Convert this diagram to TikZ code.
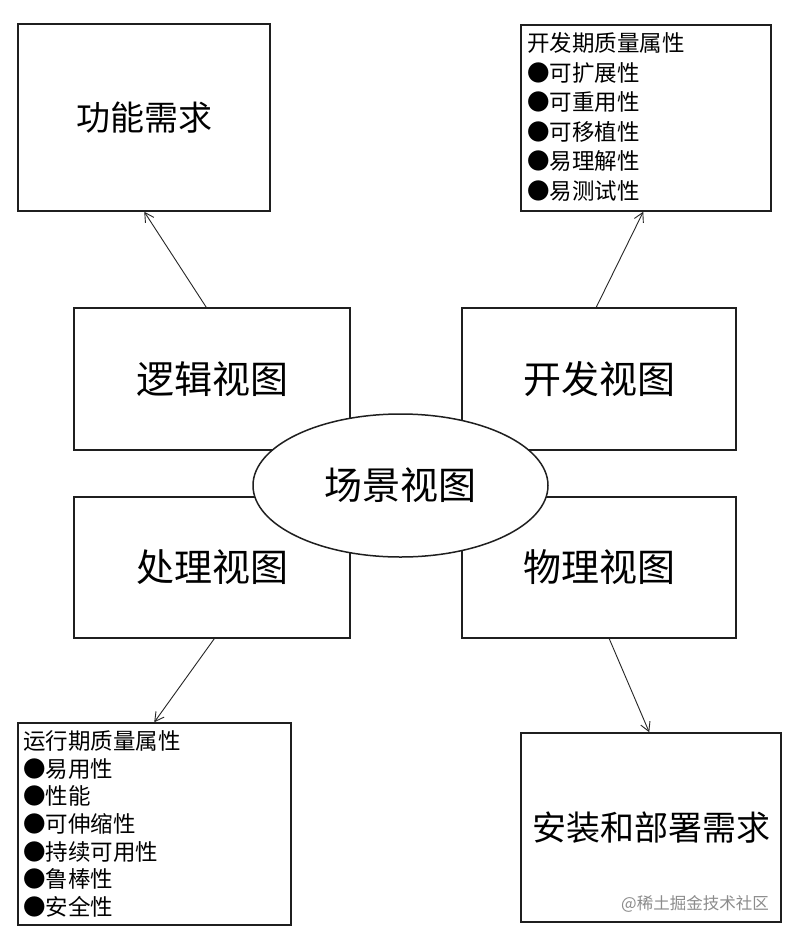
\documentclass[tikz,border=0pt]{standalone}
\usepackage{fontspec}
\newfontfamily\cjk{Noto Sans CJK SC}
\usetikzlibrary{arrows.meta,shapes.geometric}
\begin{document}
\begin{tikzpicture}[x=1pt,y=-1pt,
  box/.style={draw=black!88, line width=1.5pt, fill=white, inner sep=0pt},
  biglabel/.style={font=\cjk\fontsize{38}{40}\selectfont},
  midlabel/.style={font=\cjk\fontsize{34}{36}\selectfont},
  listtext/.style={inner sep=0pt, anchor=north west, align=left},
  arr/.style={draw=black!85, line width=0.9pt, -{Straight Barb[length=9pt,width=10pt]}}]
\useasboundingbox[fill=white] (0,0) rectangle (794,938);

% top boxes
\node[box, midlabel, minimum width=252, minimum height=187] (func) at (144,117.5) {功能需求};
\node[box, minimum width=250, minimum height=186] (devq) at (646,118) {};
\node[listtext, font=\cjk\fontsize{22.5}{29.5}\selectfont] (devqtext) at (527,32.5)
  {开发期质量属性\\●可扩展性\\●可重用性\\●可移植性\\●易理解性\\●易测试性};

% four views
\node[box, biglabel, minimum width=276, minimum height=142] (logic) at (212,379) {逻辑视图};
\node[box, biglabel, minimum width=274, minimum height=142] (dev) at (599,379) {开发视图};
\node[box, biglabel, minimum width=276, minimum height=141] (proc) at (212,567.5) {处理视图};
\node[box, biglabel, minimum width=274, minimum height=141] (phys) at (599,567.5) {物理视图};

% scene ellipse
\node[ellipse, box, biglabel, minimum width=295, minimum height=143] (scene) at (400.5,485.5) {场景视图};

% bottom boxes
\node[box, minimum width=273, minimum height=202] (run) at (154.5,824) {};
\node[listtext, font=\cjk\fontsize{22.5}{27.6}\selectfont] (runtext) at (23,730.5)
  {运行期质量属性\\●易用性\\●性能\\●可伸缩性\\●持续可用性\\●鲁棒性\\●安全性};
\node[box, midlabel, minimum width=260, minimum height=189] (deploy) at (651,827.5) {安装和部署需求};

% watermark
\node[inner sep=0pt, anchor=east, text=black!45, font=\cjk\fontsize{16.5}{18}\selectfont] (wm) at (769,904) {@稀土掘金技术社区};

% arrows
\draw[arr] ([xshift=133pt]logic.north west) -- ([xshift=127pt]func.south west);
\draw[arr] ([xshift=135pt]dev.north west) -- ([xshift=123pt]devq.south west);
\draw[arr] ([xshift=141pt]proc.south west) -- ([xshift=137pt]run.north west);
\draw[arr] ([xshift=148pt]phys.south west) -- ([xshift=129pt]deploy.north west);
\end{tikzpicture}
\end{document}
